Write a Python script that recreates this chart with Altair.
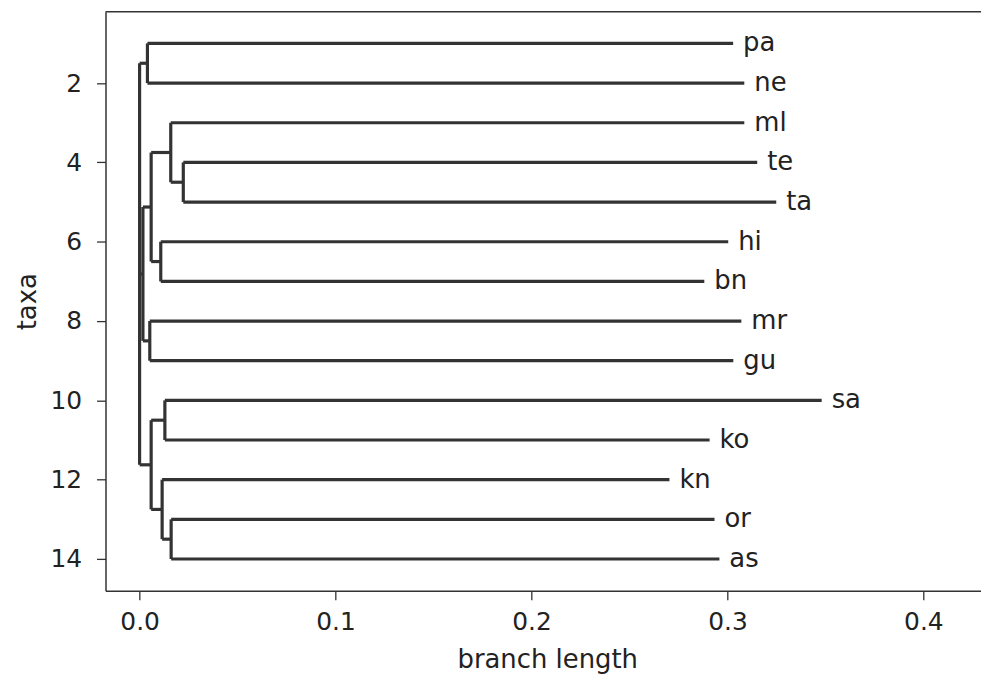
import altair as alt
import pandas as pd

# Leaves, top to bottom (y = 1..14)
leaf_names = ["pa", "ne", "ml", "te", "ta", "hi", "bn", "mr", "gu", "sa", "ko", "kn", "or", "as"]
leaf_parents = ["A", "A", "B", "TT", "TT", "HB", "HB", "D", "D", "SK", "SK", "KOA", "OA", "OA"]
leaf_depths = [0.3029, 0.3086, 0.3086, 0.3152, 0.3249, 0.3004, 0.2882,
               0.3071, 0.3030, 0.3481, 0.2909, 0.2704, 0.2934, 0.2959]

# Internal clades (depth = distance from root)
node_names = ["root", "A", "E", "C", "B", "TT", "HB", "D", "F", "SK", "KOA", "OA"]
node_parents = [None, "root", "root", "E", "C", "B", "C", "E", "root", "F", "F", "KOA"]
node_depths = [0.0, 0.0040, 0.0017, 0.0059, 0.0159, 0.0223, 0.0108, 0.0052,
               0.0059, 0.0129, 0.0115, 0.0161]

x_ticks = [0.0, 0.1, 0.2, 0.3, 0.4]
y_ticks = [2, 4, 6, 8, 10, 12, 14]

# ---- build tree geometry from the arrays ----
depth = dict(zip(leaf_names, leaf_depths))
depth.update(dict(zip(node_names, node_depths)))
parent = dict(zip(leaf_names, leaf_parents))
parent.update({n: p for n, p in zip(node_names, node_parents) if p is not None})
children = {n: [] for n in node_names}
for c, p in parent.items():
    children[p].append(c)

ypos = {n: i + 1 for i, n in enumerate(leaf_names)}


def get_y(n):
    if n in ypos:
        return ypos[n]
    ys = [get_y(c) for c in children[n]]
    ypos[n] = (min(ys) + max(ys)) / 2
    return ypos[n]


get_y("root")

segs = []
for n, p in parent.items():
    segs.append({"x": depth[p], "x2": depth[n], "y": ypos[n], "y2": ypos[n]})
for n in node_names:
    ys = [ypos[c] for c in children[n]]
    segs.append({"x": depth[n], "x2": depth[n], "y": min(ys), "y2": max(ys)})
seg_df = pd.DataFrame(segs)

leaf_df = pd.DataFrame({"x": leaf_depths, "y": [ypos[n] for n in leaf_names], "name": leaf_names})

W, H = 880, 582
xscale = alt.Scale(domain=[-0.0174, 0.4294], nice=False, zero=False)
yscale = alt.Scale(domain=[0.2, 14.8], reverse=True, nice=False, zero=False)

lines = alt.Chart(seg_df).mark_rule(color="#333333", strokeWidth=3.2).encode(
    x=alt.X("x:Q", scale=xscale,
            axis=alt.Axis(values=x_ticks, format=".1f", title="branch length",
                          labelPadding=10, titlePadding=12, titleX=444)),
    x2="x2:Q",
    y=alt.Y("y:Q", scale=yscale,
            axis=alt.Axis(values=y_ticks, title="taxa", labelPadding=15, titlePadding=10)),
    y2="y2:Q",
)

labels = alt.Chart(leaf_df).mark_text(
    align="left", baseline="middle", dx=10, fontSize=26, font="DejaVu Sans", color="#222222"
).encode(x="x:Q", y="y:Q", text="name:N")

top_spine = alt.Chart(pd.DataFrame({"a": [0]})).mark_rule(color="#333333", strokeWidth=1.5).encode(
    x=alt.value(0), x2=alt.value(W), y=alt.value(0)
)

chart = (
    alt.layer(lines, labels, top_spine)
    .properties(width=W, height=H, autosize=alt.AutoSizeParams(type="none"),
                padding={"left": 98, "top": 2, "right": 0, "bottom": 85})
    .configure_view(stroke=None)
    .configure_axis(
        labelFont="DejaVu Sans", titleFont="DejaVu Sans",
        labelFontSize=25, titleFontSize=26, titleFontWeight="normal",
        labelColor="#222222", titleColor="#222222",
        tickSize=9, tickColor="#333333", tickWidth=1.3,
        domainColor="#333333", domainWidth=1.5, grid=False,
    )
)

chart.save("out.html", embed_options={"renderer": "svg", "actions": False})
